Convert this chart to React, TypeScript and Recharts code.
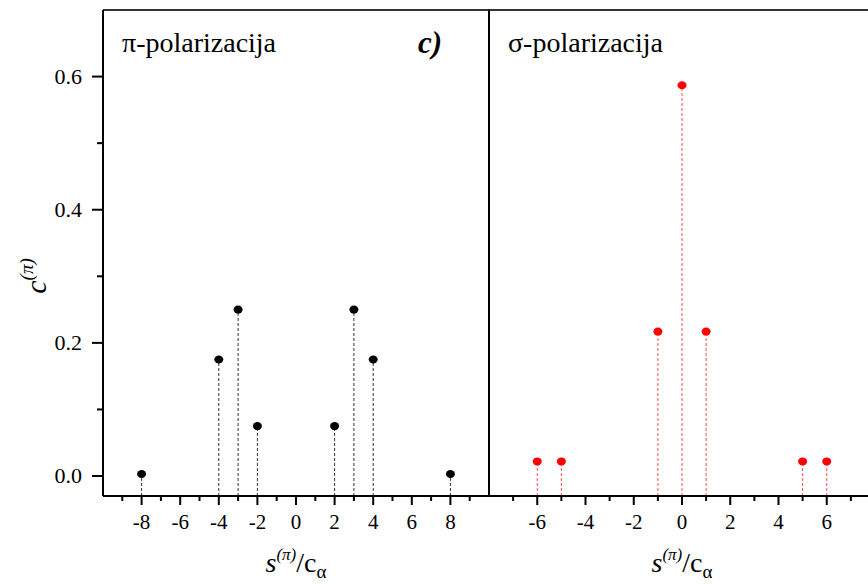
import {
  ScatterChart,
  Scatter,
  XAxis,
  YAxis,
  ReferenceLine,
  Label,
} from 'recharts'

// values
const piPositions = [-8, -4, -3, -2, 2, 3, 4, 8]
const piWeights = [0.003, 0.175, 0.25, 0.075, 0.075, 0.25, 0.175, 0.003]
const sigmaPositions = [-6, -5, -1, 0, 1, 5, 6]
const sigmaWeights = [0.022, 0.022, 0.217, 0.587, 0.217, 0.022, 0.022]

const yTicks = [0, 0.1, 0.2, 0.3, 0.4, 0.5, 0.6]
const piTicks = [-9, -8, -7, -6, -5, -4, -3, -2, -1, 0, 1, 2, 3, 4, 5, 6, 7, 8, 9]
const sigmaTicks = [-7, -6, -5, -4, -3, -2, -1, 0, 1, 2, 3, 4, 5, 6, 7]

const Y_DOMAIN: [number, number] = [-0.03, 0.7]
const FONT = '"Liberation Serif", "DejaVu Serif", serif'

const piData = piPositions.map((x, i) => ({ x, y: piWeights[i] }))
const sigmaData = sigmaPositions.map((x, i) => ({ x, y: sigmaWeights[i] }))

const XTick = (props: any) => {
  const { x, y, payload } = props
  const major = payload.value % 2 === 0
  return (
    <g>
      <line x1={x} y1={y} x2={x} y2={y + (major ? 9 : 5)} stroke="#000" strokeWidth={2} />
      {major && (
        <text x={x} y={y + 33} textAnchor="middle" fontFamily={FONT} fontSize={21} fill="#000">
          {payload.value}
        </text>
      )}
    </g>
  )
}

const YTick = (props: any) => {
  const { x, y, payload } = props
  const major = Math.round(payload.value * 10) % 2 === 0
  return (
    <g>
      <line x1={x} y1={y} x2={x - (major ? 11 : 6)} y2={y} stroke="#000" strokeWidth={2} />
      {major && (
        <text x={x - 21} y={y + 7} textAnchor="end" fontFamily={FONT} fontSize={22} fill="#000">
          {payload.value.toFixed(1)}
        </text>
      )}
    </g>
  )
}

const XTitle = (props: any) => {
  const vb = props.viewBox
  const cx = vb.x + vb.width / 2
  return (
    <text x={cx} y={vb.y + 76} textAnchor="middle" fontFamily={FONT} fontSize={28} fill="#000">
      <tspan fontStyle="italic">s</tspan>
      <tspan fontStyle="italic" fontSize={17} dy={-12}>(π)</tspan>
      <tspan dy={12}>/c</tspan>
      <tspan fontSize={19} dy={6}>α</tspan>
    </text>
  )
}

const YTitle = () => (
  <text
    x={46}
    y={276}
    transform="rotate(-90, 46, 276)"
    textAnchor="middle"
    fontFamily={FONT}
    fontSize={30}
    fill="#000"
  >
    <tspan fontStyle="italic">c</tspan>
    <tspan fontStyle="italic" fontSize={19} dy={-13}>(π)</tspan>
  </text>
)

const stem = (d: { x: number; y: number }, color: string, key: string) => (
  <ReferenceLine
    key={key}
    segment={[
      { x: d.x, y: Y_DOMAIN[0] },
      { x: d.x, y: d.y },
    ]}
    stroke={color}
    strokeWidth={1}
    strokeDasharray="3 2"
    ifOverflow="visible"
  />
)

const dot = (color: string) => (p: any) =>
  <ellipse cx={p.cx} cy={p.cy} rx={4.5} ry={4} fill={color} />

const textStyle = (left: number): React.CSSProperties => ({
  position: 'absolute',
  left,
  top: 31,
  fontFamily: FONT,
  fontSize: 28,
  lineHeight: '24px',
  color: '#000',
  whiteSpace: 'nowrap',
})

export default function App() {
  return (
    <div
      style={{
        position: 'absolute',
        left: 0,
        top: 0,
        width: 868,
        height: 584,
        overflow: 'hidden',
        background: '#fff',
      }}
    >
      <div style={{ position: 'absolute', left: 489, top: 0 }}>
        <ScatterChart width={386} height={584} margin={{ top: 10, right: 0, bottom: 0, left: 0 }}>
          <XAxis
            type="number"
            dataKey="x"
            domain={[-8, 8]}
            allowDataOverflow
            ticks={sigmaTicks}
            interval={0}
            tickLine={false}
            tickSize={0}
            tickMargin={0}
            tick={<XTick />}
            axisLine={{ stroke: '#000', strokeWidth: 2 }}
            height={88}
          >
            <Label content={<XTitle />} />
          </XAxis>
          <YAxis type="number" dataKey="y" domain={Y_DOMAIN} allowDataOverflow hide />
          <ReferenceLine y={0.7} stroke="#333" strokeWidth={2} ifOverflow="visible" />
          {sigmaData.map((d, i) => stem(d, '#ff4d4d', 's' + i))}
          <Scatter data={sigmaData} shape={dot('#ff0000')} isAnimationActive={false} />
        </ScatterChart>
      </div>
      <div style={{ position: 'absolute', left: 0, top: 0 }}>
        <ScatterChart width={491} height={584} margin={{ top: 10, right: 2, bottom: 0, left: 0 }}>
          <XAxis
            type="number"
            dataKey="x"
            domain={[-10, 10]}
            allowDataOverflow
            ticks={piTicks}
            interval={0}
            tickLine={false}
            tickSize={0}
            tickMargin={0}
            tick={<XTick />}
            axisLine={{ stroke: '#000', strokeWidth: 2 }}
            height={88}
          >
            <Label content={<XTitle />} />
          </XAxis>
          <YAxis
            type="number"
            dataKey="y"
            domain={Y_DOMAIN}
            allowDataOverflow
            ticks={yTicks}
            interval={0}
            tickLine={false}
            tickSize={0}
            tickMargin={0}
            tick={<YTick />}
            axisLine={{ stroke: '#000', strokeWidth: 2 }}
            width={103}
          >
            <Label content={<YTitle />} />
          </YAxis>
          <ReferenceLine y={0.7} stroke="#333" strokeWidth={2} ifOverflow="visible" />
          <ReferenceLine x={10} stroke="#000" strokeWidth={2} ifOverflow="visible" />
          {piData.map((d, i) => stem(d, '#333', 'p' + i))}
          <Scatter data={piData} shape={dot('#000')} isAnimationActive={false} />
        </ScatterChart>
      </div>
      <div style={textStyle(122)}>π-polarizacija</div>
      <div style={{ ...textStyle(418), fontWeight: 'bold', fontStyle: 'italic', fontSize: 31 }}>c)</div>
      <div style={textStyle(508)}>σ-polarizacija</div>
    </div>
  )
}
